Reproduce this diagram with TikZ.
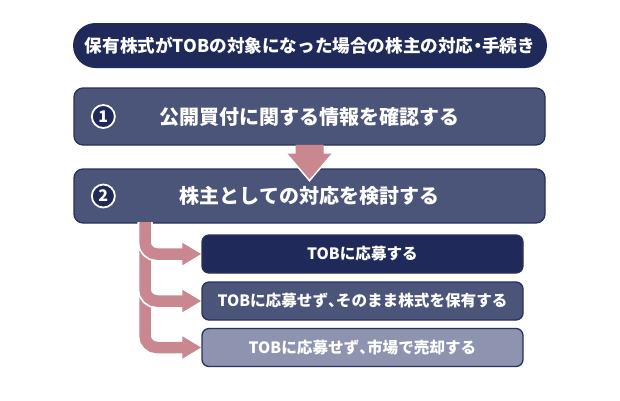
\documentclass[tikz,border=0pt]{standalone}
\usepackage{fontspec}
\newfontfamily\jpfont{Noto Sans CJK JP}
\newfontfamily\jphalf{Noto Sans CJK JP}[RawFeature=+halt]
\newcommand{\halfpunct}[1]{{\jphalf\bfseries #1}}
\usepackage{tikz}
\usetikzlibrary{calc,arrows.meta}
\definecolor{navy}{HTML}{1F2A5A}
\definecolor{slate}{HTML}{4B5479}
\definecolor{haze}{HTML}{8E94B0}
\definecolor{rim}{HTML}{29315D}
\definecolor{rose}{HTML}{C9878F}

\begin{document}
\begin{tikzpicture}
[x=1pt,y=-1pt,>=stealth,
 box/.style={draw=rim,line width=1.3pt,rounded corners=9pt,text=white,font=\jpfont\bfseries\fontsize{20}{24}\selectfont},
 option/.style={draw=rim,line width=1.3pt,rounded corners=7pt,minimum width=321pt,minimum height=38pt,text=white,font=\jpfont\bfseries\fontsize{15.6}{18}\selectfont},
 num/.style={draw=white,line width=1.8pt,circle,fill=navy,minimum size=23pt,inner sep=0pt,text=white,font=\jpfont\bfseries\fontsize{16}{18}\selectfont},
 branch/.style={draw=rose,line width=11.5pt,rounded corners=12pt,-{Triangle[width=21pt,length=19pt]}},
 gap/.style={draw=white,line width=15pt,rounded corners=12pt}]

\useasboundingbox (0,0) rectangle (620,400);

% the title
\node[fill=navy,rounded corners=22.5pt,minimum width=474pt,minimum height=45pt,text=white,
      font=\jpfont\bfseries\fontsize{17.6}{20}\selectfont] (title) at (310,45.5)
      {保有株式がTOBの対象になった場合の株主の対応\halfpunct{・}手続き};

% the two steps
\node[box,fill=slate,minimum width=471pt,minimum height=57pt] (stepOne) at (309.5,116.5) {公開買付に関する情報を確認する};
\node[box,fill=slate,minimum width=471pt,minimum height=54pt] (stepTwo) at (309.5,196) {株主としての対応を検討する};
\node[num] (numOne) at ($(stepOne.west)+(30,0)$) {1};
\node[num] (numTwo) at ($(stepTwo.west)+(30,0)$) {2};

% the arrow between the steps
\fill[rose] ($(stepOne.south)+(-14,-1)$) -- ($(stepOne.south)+(14,-1)$) -- ($(stepOne.south)+(14,8)$)
   -- ($(stepOne.south)+(23,8)$) -- ($(stepOne.south)+(0,35)$) -- ($(stepOne.south)+(-23,8)$)
   -- ($(stepOne.south)+(-14,8)$) -- cycle;
\draw[white,line width=1.5pt] ($(stepOne.south)+(-23,8)$) -- ($(stepOne.south)+(0,35)$) -- ($(stepOne.south)+(23,8)$);

% the three options
\node[option,fill=navy] (optA) at (362.5,254) {TOBに応募する};
\node[option,fill=slate] (optB) at (362.5,301) {TOBに応募せず\halfpunct{、}そのまま株式を保有する};
\node[option,fill=haze] (optC) at (362.5,347.5) {TOBに応募せず\halfpunct{、}市場で売却する};

% the branches
\coordinate (trunk) at (145,222);
\draw[branch] (trunk) |- (optC.west);
\draw[gap] (trunk) |- ($(optB.west)+(-18,0)$);
\draw[branch] (trunk) |- (optB.west);
\draw[gap] (trunk) |- ($(optA.west)+(-18,0)$);
\draw[branch] (trunk) |- (optA.west);

%
\end{tikzpicture}
\end{document}
